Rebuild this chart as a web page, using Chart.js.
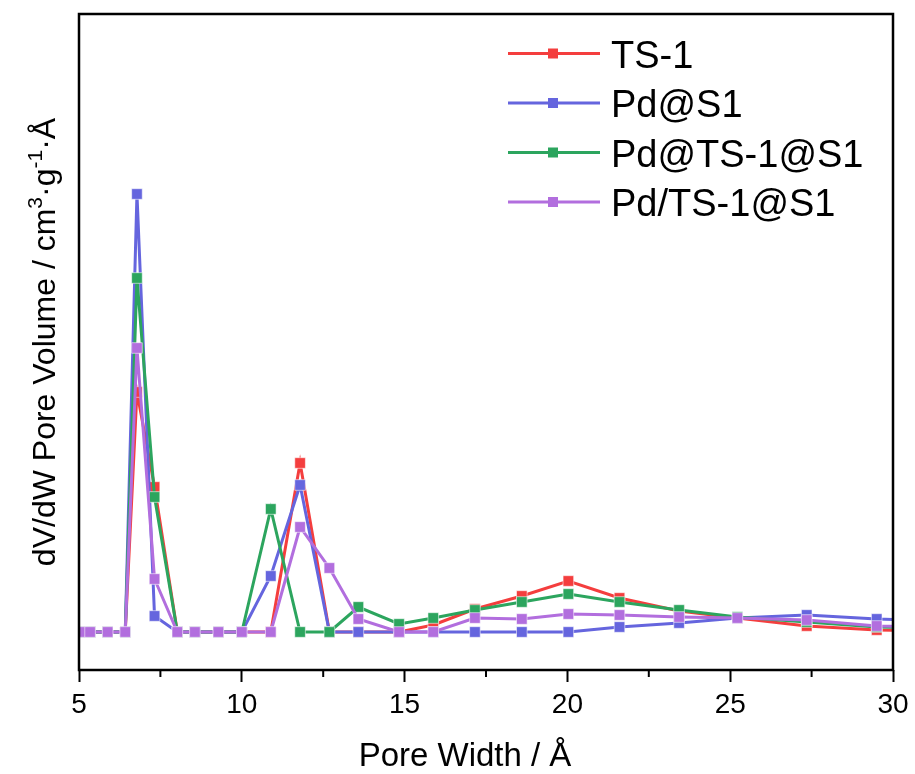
<!DOCTYPE html>
<html>
<head>
<meta charset="utf-8">
<script src="https://cdn.jsdelivr.net/npm/chart.js@4.4.0/dist/chart.umd.min.js"></script>
<style>
html, body { margin: 0; padding: 0; background: #fff; }
</style>
</head>
<body>
<canvas id="poreChart" width="915" height="774"></canvas>
<script>
"use strict"

// pore width (Å), shared by all four samples
var pore_width = [5.05, 5.34, 5.88, 6.42, 6.78, 7.32, 8.02, 8.56, 9.28, 10.0, 10.89, 11.79, 12.69,
                  13.58, 14.83, 15.88, 17.16, 18.6, 20.03, 21.6, 23.43, 25.22, 27.35, 29.5, 31.7];

var ts1        = [0, 0, 0, 0, 0.120, 0.0725, 0, 0, 0, 0, 0, 0.0845, 0,
                  0, 0, 0.0035, 0.0115, 0.018, 0.0255, 0.017, 0.0105, 0.007, 0.003, 0.001, 0.0005];
var pd_s1      = [0, 0, 0, 0, 0.219, 0.008, 0, 0, 0, 0, 0.028, 0.0735, 0,
                  0, 0, 0, 0, 0, 0, 0.0025, 0.0045, 0.007, 0.0085, 0.0065, 0.0055];
var pd_ts1_s1  = [0, 0, 0, 0, 0.177, 0.0675, 0, 0, 0, 0, 0.0615, 0, 0,
                  0.0125, 0.004, 0.007, 0.011, 0.015, 0.019, 0.015, 0.011, 0.0075, 0.005, 0.0025, 0.002];
var pd_on_ts1_s1 = [0, 0, 0, 0, 0.142, 0.0265, 0, 0, 0, 0, 0, 0.0525, 0.032,
                  0.0065, 0, 0, 0.007, 0.0065, 0.009, 0.0085, 0.0075, 0.007, 0.006, 0.003, 0.0025];

var series_names  = ["TS-1", "Pd@S1", "Pd@TS-1@S1", "Pd/TS-1@S1"];
var series_values = [ts1, pd_s1, pd_ts1_s1, pd_on_ts1_s1];
var series_colors = ["#F43E3E", "#6565DE", "#2CA55E", "#B26EDE"];

var x_tick_labels = [5, 10, 15, 20, 25, 30];

var FONT = "'Liberation Sans', Arial, sans-serif";

function to_points(values){
    var pts = [];
    for(var i=0;i<values.length;i++){
        pts.push({x: pore_width[i], y: values[i]});
    }
    return pts;
}

var datasets = [];
for(var s=0;s<series_names.length;s++){
    datasets.push({
        label: series_names[s],
        data: to_points(series_values[s]),
        borderColor: series_colors[s],
        backgroundColor: series_colors[s],
        pointBackgroundColor: series_colors[s],
        pointBorderColor: "rgba(255,255,255,0.55)",
        pointBorderWidth: 1,
        pointStyle: "rect",
        pointRadius: 7.5,
        borderWidth: 3,
        tension: 0,
        order: series_names.length - s   // last series on top
    });
}

var decor = {
    id: "decor",
    beforeDraw: function(chart){
        var ctx = chart.ctx;
        ctx.save();
        ctx.fillStyle = "#fff";
        ctx.fillRect(0, 0, chart.width, chart.height);
        ctx.restore();
    },
    afterDraw: function(chart){
        var ctx = chart.ctx;
        var a = chart.chartArea;
        var xs = chart.scales.x;
        ctx.save();

        // frame
        ctx.strokeStyle = "#000";
        ctx.lineWidth = 2.5;
        ctx.strokeRect(a.left, a.top, a.right - a.left, a.bottom - a.top);

        // minor ticks
        ctx.lineWidth = 2;
        for(var v=7.5; v<30; v+=5){
            var px = xs.getPixelForValue(v);
            ctx.beginPath();
            ctx.moveTo(px, a.bottom);
            ctx.lineTo(px, a.bottom + 7);
            ctx.stroke();
        }

        // x title
        ctx.fillStyle = "#000";
        ctx.font = "33px " + FONT;
        ctx.textAlign = "center";
        ctx.textBaseline = "alphabetic";
        ctx.fillText("Pore Width / Å", 465, 766);

        // y title with superscripts
        var parts = [["dV/dW Pore Volume / cm", 0], ["3", 1], ["·g", 0], ["-1", 1], ["·Å", 0]];
        var total = 0;
        for(var i=0;i<parts.length;i++){
            ctx.font = (parts[i][1] ? "21px " : "32px ") + FONT;
            total += ctx.measureText(parts[i][0]).width;
        }
        ctx.translate(55, (a.top + a.bottom) / 2);
        ctx.rotate(-Math.PI / 2);
        ctx.textAlign = "left";
        var cx = -total / 2;
        for(var j=0;j<parts.length;j++){
            ctx.font = (parts[j][1] ? "21px " : "32px ") + FONT;
            ctx.fillText(parts[j][0], cx, parts[j][1] ? -13 : 0);
            cx += ctx.measureText(parts[j][0]).width;
        }
        ctx.setTransform(1, 0, 0, 1, 0, 0);

        // legend
        ctx.font = "38px " + FONT;
        ctx.textAlign = "left";
        ctx.textBaseline = "alphabetic";
        for(var k=0;k<series_names.length;k++){
            var ry = 53.5 + k * 49.5;
            ctx.strokeStyle = series_colors[k];
            ctx.lineWidth = 3;
            ctx.beginPath();
            ctx.moveTo(508, ry);
            ctx.lineTo(600, ry);
            ctx.stroke();
            ctx.fillStyle = series_colors[k];
            ctx.fillRect(548, ry - 5, 10, 10);
            ctx.fillStyle = "#000";
            ctx.fillText(series_names[k], 611, ry + 14);
        }
        ctx.restore();
    }
};

var chart = new Chart(document.getElementById("poreChart").getContext("2d"), {
    type: "line",
    data: { datasets: datasets },
    options: {
        responsive: false,
        animation: false,
        devicePixelRatio: 1,
        layout: { padding: { left: 79, right: 22, top: 14, bottom: 0 } },
        plugins: {
            legend: { display: false },
            tooltip: { enabled: false }
        },
        scales: {
            x: {
                type: "linear",
                min: 5,
                max: 30,
                afterFit: function(scale){ scale.height = 104; },
                border: { display: false },
                grid: {
                    display: true,
                    drawOnChartArea: false,
                    drawTicks: true,
                    tickLength: 12,
                    tickWidth: 2,
                    tickColor: function(c){
                        return x_tick_labels.indexOf(c.tick.value) >= 0 ? "#000" : "rgba(0,0,0,0)";
                    }
                },
                ticks: {
                    stepSize: 2.5,
                    autoSkip: false,
                    maxRotation: 0,
                    padding: 6,
                    color: "#000",
                    font: { family: FONT, size: 28 },
                    callback: function(v){
                        return x_tick_labels.indexOf(v) >= 0 ? String(v) : "";
                    }
                }
            },
            y: {
                display: false,
                min: -0.019,
                max: 0.309
            }
        }
    },
    plugins: [decor]
});
</script>
</body>
</html>
